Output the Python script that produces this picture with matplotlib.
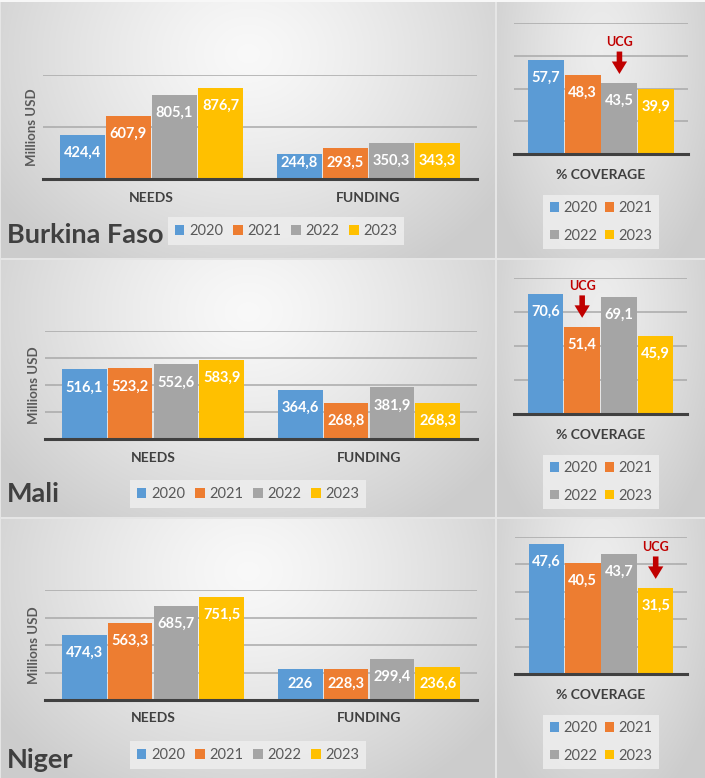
import numpy as np
import matplotlib
matplotlib.use('Agg')
import matplotlib.pyplot as plt

plt.rcParams['font.family'] = ['Lato', 'DejaVu Sans']

years = ['2020', '2021', '2022', '2023']
colors = ['#5b9bd5', '#ed7d31', '#a5a5a5', '#ffc000']
categories = ['NEEDS', 'FUNDING']
countries = ['Burkina Faso', 'Mali', 'Niger']

# millions USD, per year: [needs, funding]
bf_money = [[424.4, 244.8], [607.9, 293.5], [805.1, 350.3], [876.7, 343.3]]
mali_money = [[516.1, 364.6], [523.2, 268.8], [552.6, 381.9], [583.9, 268.3]]
niger_money = [[474.3, 226.0], [563.3, 228.3], [685.7, 299.4], [751.5, 236.6]]

# % coverage per year
bf_cov = [57.7, 48.3, 43.5, 39.9]
mali_cov = [70.6, 51.4, 69.1, 45.9]
niger_cov = [47.6, 40.5, 43.7, 31.5]

# year index marked "UCG"
ucg_year = [2, 1, 3]

money = [bf_money, mali_money, niger_money]
cover = [bf_cov, mali_cov, niger_cov]

W, H = 705, 778
fig = plt.figure(figsize=(W / 100, H / 100), dpi=100)

# background panels with soft radial gradient
bg = np.full((H, W, 3), 0.9)
bg[:2, :, :] = 0.97
panels = [(1, 2, 495, 258), (497, 2, 705, 258),
          (1, 260, 495, 517), (497, 260, 705, 517),
          (1, 519, 495, 778), (497, 519, 705, 778)]
for i, (x0, y0, x1, y1) in enumerate(panels):
    yy, xx = np.mgrid[y0:y1, x0:x1]
    w, h = x1 - x0, y1 - y0
    cx, cy = x0 + 0.5 * w, y0 + 0.2 * h
    r = np.sqrt(((xx - cx) / (0.62 * w)) ** 2 + ((yy - cy) / (1.0 * h)) ** 2)
    r = np.clip(r, 0, 1) ** 1.3
    if i % 2 == 0:
        c0, c1 = 0.975, 0.80
    else:
        c0, c1 = 0.93, 0.80
    v = c0 + (c1 - c0) * r
    bg[y0:y1, x0:x1, :] = v[..., None]
bax = fig.add_axes([0, 0, 1, 1])
bax.imshow(bg, aspect='auto', extent=(0, W, H, 0))
bax.set_xlim(0, W)
bax.set_ylim(H, 0)
bax.axis('off')


def px_axes(l, r, top, bottom):
    return fig.add_axes([l / W, 1 - bottom / H, (r - l) / W, (bottom - top) / H])


def style(ax):
    ax.patch.set_alpha(0)
    for s in ['top', 'right', 'left']:
        ax.spines[s].set_visible(False)
    ax.spines['bottom'].set_color('#404040')
    ax.spines['bottom'].set_linewidth(2.2)
    ax.spines['bottom'].set_zorder(5)
    ax.set_yticklabels([])
    ax.tick_params(axis='y', length=0)
    ax.tick_params(axis='x', length=0, pad=9, labelsize=10, labelcolor='#404040')
    for t in ax.get_xticklabels():
        t.set_fontweight('bold')
    ax.grid(axis='y', color='#a9a9a9', linewidth=1.1)
    ax.set_axisbelow(True)


def label_bars(ax, xs, vals, ytop, hpx):
    upp = ytop / hpx
    for x, v in zip(xs, vals):
        y = max(v - 18 * upp, 16 * upp)
        ax.text(x, y, f'{v:g}'.replace('.', ','), ha='center', va='center',
                color='white', fontsize=10.5, fontweight='bold', zorder=6)


# layout per row (pixels)
left_geo = [(43, 477, 75, 179), (45, 477, 331, 439), (45, 477, 590, 700)]
left_top = [1000, 800, 800]
left_step = [500, 200, 200]
right_geo = [(514, 688, 23, 154), (514, 687, 278, 414), (515, 687, 537, 674)]
right_top = [80, 80, 50]
right_step = [20, 20, 10]
leg_left = [(286, 231), (248, 494), (248, 755)]
leg_right = [(601, 222), (601, 482), (601, 742)]
name_pos = [(7, 235), (7, 494), (7, 760)]

bw = 0.212
for row in range(3):
    l, r, t, b = left_geo[row]
    ax = px_axes(l, r, t, b)
    x = np.arange(len(categories))
    handles = []
    for i, yr in enumerate(years):
        xs = x + (i - 1.5) * bw
        vals = money[row][i]
        h = ax.bar(xs, vals, width=bw - 0.005, color=colors[i], label=yr, zorder=3)
        handles.append(h)
        label_bars(ax, xs, vals, left_top[row], b - t)
    ax.set_xlim(-0.5, 1.5)
    ax.set_ylim(0, left_top[row])
    ax.set_yticks(np.arange(0, left_top[row] + 1, left_step[row]))
    ax.set_xticks(x)
    ax.set_xticklabels(categories)
    style(ax)
    ax.text(-11 / (r - l), 0.5, 'Millions USD', transform=ax.transAxes, rotation=90,
            ha='center', va='center', fontsize=9.5, fontweight='bold', color='#595959')
    lx, ly = leg_left[row]
    fig.legend(handles, years, loc='center', bbox_to_anchor=(lx / W, 1 - ly / H),
               ncol=4, frameon=True, facecolor='#eeeeee', edgecolor='none',
               framealpha=0.85, fancybox=False, fontsize=10.5, labelcolor='#595959',
               handlelength=0.65, handleheight=0.65, handletextpad=0.3,
               columnspacing=0.7, borderpad=0.45)
    nx, ny = name_pos[row]
    fig.text(nx / W, 1 - ny / H, countries[row], ha='left', va='center',
             fontsize=19.5, fontweight='bold', color='#404040')

    # coverage panel
    l, r, t, b = right_geo[row]
    ax2 = px_axes(l, r, t, b)
    cov = cover[row]
    xs = (np.arange(4) - 1.5) * bw
    hs = []
    for i, yr in enumerate(years):
        h = ax2.bar(xs[i], cov[i], width=bw - 0.005, color=colors[i], label=yr, zorder=3)
        hs.append(h)
    label_bars(ax2, xs, cov, right_top[row], b - t)
    ax2.set_xlim(-0.5, 0.5)
    ax2.set_ylim(0, right_top[row])
    ax2.set_yticks(np.arange(0, right_top[row] + 1, right_step[row]))
    ax2.set_xticks([0])
    ax2.set_xticklabels(['% COVERAGE'])
    style(ax2)
    ax2.tick_params(axis='x', pad=11)

    upp = right_top[row] / (b - t)
    k = ucg_year[row]
    v = cov[k]
    ax2.annotate('', xy=(xs[k], v + 6 * upp), xytext=(xs[k], v + 34 * upp),
                 arrowprops=dict(arrowstyle='simple,head_length=0.9,head_width=1.1,tail_width=0.4',
                                 color='#c00000', lw=0), zorder=6)
    ax2.text(xs[k], v + 41 * upp, 'UCG', ha='center', va='center', color='#c00000',
             fontsize=9, fontweight='bold', zorder=6)

    # two rows: 2020 2021 / 2022 2023 (legend fills by column)
    order = [0, 2, 1, 3]
    lx, ly = leg_right[row]
    fig.legend([hs[j] for j in order], [years[j] for j in order], loc='center',
               bbox_to_anchor=(lx / W, 1 - ly / H),
               ncol=2, frameon=True, facecolor='#eeeeee', edgecolor='none',
               framealpha=0.85, fancybox=False, fontsize=10.5, labelcolor='#595959',
               handlelength=0.65, handleheight=0.65, handletextpad=0.3,
               columnspacing=0.5, borderpad=0.45, labelspacing=0.9)

fig.savefig('out.png', dpi=100)
